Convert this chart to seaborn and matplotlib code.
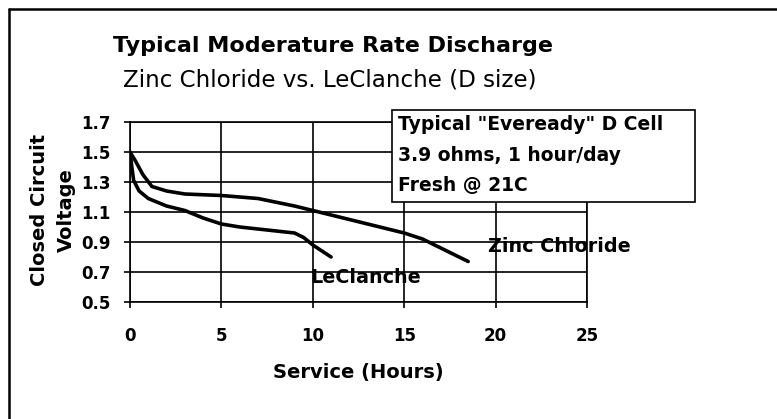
"""
Typical moderate rate discharge: Zinc Chloride vs. LeClanche D cells.
Recreated with seaborn, saved as out.png.
"""

import matplotlib
matplotlib.use("Agg")
import matplotlib.pyplot as plt
from matplotlib.patches import Rectangle
from matplotlib.lines import Line2D
import pandas as pd
import seaborn as sns

# --- data ---
zinc_hours = [0, 0.3, 0.7, 1.2, 2, 3, 5, 7, 9, 10, 12, 14, 15, 16, 17, 18.5]
zinc_volts = [1.50, 1.44, 1.35, 1.27, 1.24, 1.22, 1.21, 1.19, 1.14, 1.11,
              1.05, 0.99, 0.96, 0.92, 0.86, 0.77]
lec_hours = [0, 0.1, 0.2, 0.5, 1, 2, 3, 4, 5, 6, 7.5, 9, 9.5, 10, 10.5, 11]
lec_volts = [1.50, 1.40, 1.31, 1.24, 1.19, 1.14, 1.11, 1.06, 1.02, 1.00,
             0.98, 0.96, 0.93, 0.88, 0.84, 0.80]

x_ticks = [0, 5, 10, 15, 20, 25]
y_ticks = [0.5, 0.7, 0.9, 1.1, 1.3, 1.5, 1.7]
note_lines = ['Typical "Eveready" D Cell', "3.9 ohms, 1 hour/day", "Fresh @ 21C"]

df = pd.concat([
    pd.DataFrame({"hours": zinc_hours, "volts": zinc_volts, "cell": "Zinc Chloride"}),
    pd.DataFrame({"hours": lec_hours, "volts": lec_volts, "cell": "LeClanche"}),
])

sns.set_style("white")
plt.rcParams["font.family"] = ["DejaVu Sans"]
plt.rcParams.update({"text.color": "black", "axes.labelcolor": "black",
                     "xtick.color": "black", "ytick.color": "black"})

W, H = 777, 419
fig = plt.figure(figsize=(W / 100, H / 100), dpi=100)
fig.patch.set_edgecolor("none")
ax = fig.add_axes([130 / W, 1 - 302 / H, (587 - 130) / W, (302 - 122) / H])

sns.lineplot(data=df, x="hours", y="volts", hue="cell",
             palette={"Zinc Chloride": "black", "LeClanche": "black"},
             linewidth=2.6, legend=False, ax=ax, zorder=3)

ax.set_xlim(0, 25)
ax.set_ylim(0.5, 1.7)
ax.set_xticks(x_ticks)
ax.set_yticks(y_ticks)
ax.set_xticklabels([str(t) for t in x_ticks], fontsize=12, fontweight="bold")
ax.set_yticklabels([f"{t:.1f}" for t in y_ticks], fontsize=12, fontweight="bold")
ax.grid(True, color="black", linewidth=1.2)
for s in ax.spines.values():
    s.set_color("black")
    s.set_linewidth(1.2)
ax.tick_params(axis="both", direction="out", length=4, width=1.2, color="black",
               bottom=True, left=True)
ax.tick_params(axis="x", pad=14)
ax.tick_params(axis="y", pad=10)

ax.set_xlabel("Service (Hours)", fontsize=14, fontweight="bold", va="center")
ax.xaxis.set_label_coords(0.499, -0.394)
ax.set_ylabel("Closed Circuit\nVoltage", fontsize=14, fontweight="bold",
              va="center", linespacing=1.5)
ax.yaxis.set_label_coords(-0.168, 0.51)

ax.text(19.6, 0.867, "Zinc Chloride", fontsize=13.8, fontweight="bold",
        va="center", ha="left", zorder=4)
ax.text(9.85, 0.665, "LeClanche", fontsize=13.8, fontweight="bold",
        va="center", ha="left", zorder=4)

fig.text(113 / W, 1 - 46 / H, "Typical Moderature Rate Discharge",
         fontsize=16, fontweight="bold", va="center", ha="left")
fig.text(123 / W, 1 - 80 / H, "Zinc Chloride vs. LeClanche (D size)",
         fontsize=16.6, va="center", ha="left")

# annotation box
fig.patches.append(Rectangle((392 / W, 1 - 202 / H), (695 - 392) / W, (202 - 110) / H,
                             transform=fig.transFigure, facecolor="white",
                             edgecolor="black", linewidth=1.2, zorder=5))
for i, line in enumerate(note_lines):
    fig.text(398 / W, 1 - (125 + 30 * i) / H, line, fontsize=13.5,
             fontweight="bold", va="center", ha="left", zorder=6)

# outer frame (only the top and left edges show)
fig.lines.append(Line2D([9 / W, 1], [1 - 9 / H] * 2, transform=fig.transFigure,
                        color="black", linewidth=1.8))
fig.lines.append(Line2D([9 / W] * 2, [0, 1 - 9 / H], transform=fig.transFigure,
                        color="black", linewidth=1.8))

fig.savefig("out.png", dpi=100)
